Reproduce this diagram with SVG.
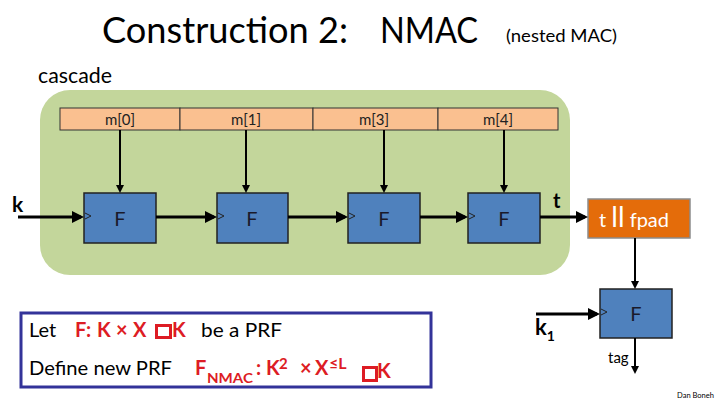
<svg xmlns="http://www.w3.org/2000/svg" width="720" height="405" viewBox="0 0 720 405">
<style>
text{font-family:Lato,"Liberation Sans",sans-serif;}
.fbox{fill:#4F81BD;stroke:#222;stroke-width:1.5;}
.flabel{font-size:20px;fill:#1a1a2a;text-anchor:middle;}
.chev{fill:none;stroke:#222;stroke-width:1;}
.mcell{fill:#FAC090;stroke:#333;stroke-width:1;}
.mlabel{font-size:15px;fill:#222;text-anchor:middle;}
.thick{stroke:#000;stroke-width:3;fill:none;marker-end:url(#ah);}
.thin{stroke:#000;stroke-width:2;fill:none;marker-end:url(#ah);}
.red{fill:#DD1C24;font-weight:bold;}
.blk{fill:#000;}
.tofu{fill:none;stroke:#DD1C24;stroke-width:3;}
</style>
<defs>
<marker id="ah" markerUnits="strokeWidth" markerWidth="4" markerHeight="4" refX="3" refY="2" orient="auto">
<path d="M0,0 L4,2 L0,4 z" fill="#000"/>
</marker>
</defs>
<rect width="720" height="405" fill="#fff"/>
<g id="title">
<text x="102" y="43" font-size="37" textLength="246" lengthAdjust="spacingAndGlyphs">Construction 2:</text>
<text x="380" y="43" font-size="37" textLength="98" lengthAdjust="spacingAndGlyphs">NMAC</text>
<text x="506" y="42" font-size="17" textLength="111" lengthAdjust="spacingAndGlyphs">(nested MAC)</text>
</g>
<g id="cascade">
<text x="38" y="83" font-size="22" textLength="74" lengthAdjust="spacingAndGlyphs">cascade</text>
<rect x="40" y="90" width="530" height="185" rx="30" fill="#C3D69B"/>
</g>
<g id="message">
<rect class="mcell" x="60" y="108" width="120" height="22"/>
<rect class="mcell" x="180" y="108" width="133" height="22"/>
<rect class="mcell" x="313" y="108" width="125" height="22"/>
<rect class="mcell" x="438" y="108" width="120" height="22"/>
<text class="mlabel" x="120" y="125">m[0]</text>
<text class="mlabel" x="246" y="125">m[1]</text>
<text class="mlabel" x="374" y="125">m[3]</text>
<text class="mlabel" x="498" y="125">m[4]</text>
</g>
<g id="F1"><rect class="fbox" x="84" y="193" width="72" height="50"/><polyline class="chev" points="85,213 91,216 85,219"/><text class="flabel" x="120" y="226">F</text></g>
<g id="F2"><rect class="fbox" x="217" y="193" width="71" height="50"/><polyline class="chev" points="218,213 224,216 218,219"/><text class="flabel" x="252" y="226">F</text></g>
<g id="F3"><rect class="fbox" x="348" y="193" width="72" height="50"/><polyline class="chev" points="349,213 355,216 349,219"/><text class="flabel" x="384" y="226">F</text></g>
<g id="F4"><rect class="fbox" x="468" y="193" width="72" height="50"/><polyline class="chev" points="469,213 475,216 469,219"/><text class="flabel" x="504" y="226">F</text></g>
<g id="pad">
<rect x="588" y="199" width="102" height="39" fill="#E46C0A" stroke="#8C8C8C" stroke-width="1.5"/>
<text x="599" y="227" font-size="20" fill="#fff">t <tspan font-size="28">ll</tspan> fpad</text>
</g>
<g id="F5"><rect class="fbox" x="600" y="289" width="72" height="49"/><polyline class="chev" points="601,309 607,312 601,315"/><text class="flabel" x="636" y="321">F</text></g>
<g id="connectors">
<path class="thick" d="M18,217 H81"/>
<path class="thick" d="M156,217 H214"/>
<path class="thick" d="M288,217 H345"/>
<path class="thick" d="M420,217 H465"/>
<path class="thick" d="M540,217 H585"/>
<path class="thin" d="M120,130 V191"/>
<path class="thin" d="M246,130 V191"/>
<path class="thin" d="M384,130 V191"/>
<path class="thin" d="M504,130 V191"/>
<path class="thin" d="M635,238 V287"/>
<path class="thick" d="M536,314 H597"/>
<path class="thin" d="M635,338 V372"/>
</g>
<g id="labels">
<text x="12" y="212" font-size="21" font-weight="bold">k</text>
<text x="553" y="208" font-size="20" font-weight="bold">t</text>
<text x="535" y="335" font-size="22" font-weight="bold">k<tspan font-size="14" dy="6">1</tspan></text>
<text x="608" y="363" font-size="15">tag</text>
<text x="677" y="398" font-size="7" textLength="37" lengthAdjust="spacingAndGlyphs">Dan Boneh</text>
</g>
<g id="definition">
<rect x="21" y="313" width="410" height="74" fill="#fff" stroke="#333399" stroke-width="3"/>
<text x="29" y="337" font-size="20" class="blk">Let</text>
<text y="337" font-size="20" class="red"><tspan x="75">F:</tspan><tspan x="97">K</tspan><tspan x="116">×</tspan><tspan x="133">X</tspan></text>
<rect class="tofu" x="156.5" y="325.5" width="14" height="12"/>
<text x="172" y="337" font-size="20" class="red">K</text>
<text x="201" y="337" font-size="20" class="blk" textLength="81" lengthAdjust="spacingAndGlyphs">be a PRF</text>
<text x="29" y="375" font-size="20" class="blk" textLength="143" lengthAdjust="spacingAndGlyphs">Define new PRF</text>
<text y="375" font-size="20" class="red"><tspan x="195">F</tspan><tspan x="207" y="383" font-size="14" textLength="46" lengthAdjust="spacingAndGlyphs">NMAC</tspan><tspan x="256" y="375">:</tspan><tspan x="266">K</tspan><tspan x="279" y="369" font-size="15">2</tspan><tspan x="300" y="375">×</tspan><tspan x="315">X</tspan><tspan x="329" y="369" font-size="16">≤L</tspan></text>
<rect class="tofu" x="363.5" y="367.5" width="13" height="13"/>
<text x="377" y="378" font-size="20" class="red">K</text>
</g>
</svg>
